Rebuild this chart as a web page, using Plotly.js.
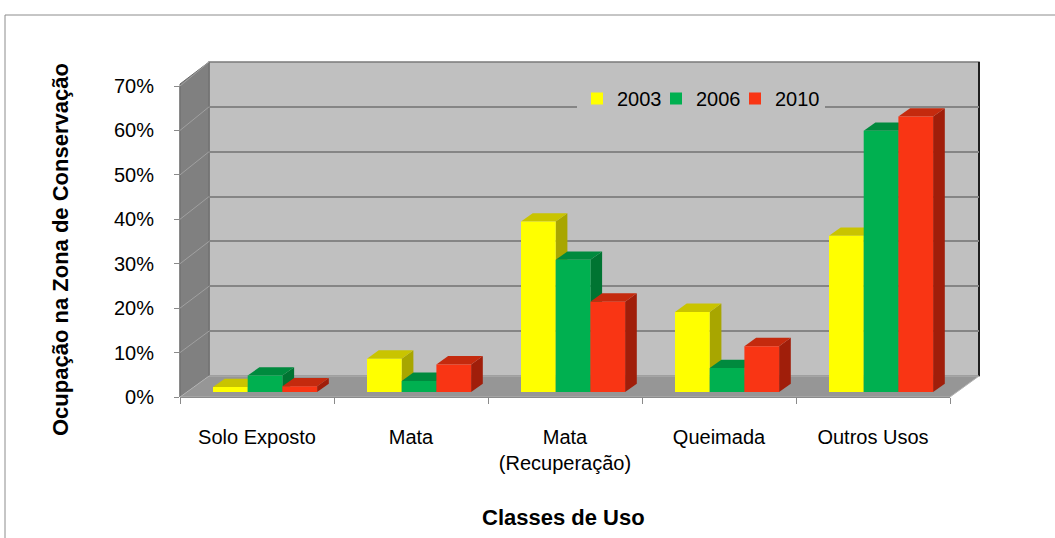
<!DOCTYPE html>
<html>
<head>
<meta charset="utf-8">
<script src="https://cdn.plot.ly/plotly-3.0.1.min.js"></script>
<style>html,body{margin:0;padding:0;background:#fff;}#chart{width:1055px;height:538px;}</style>
</head>
<body>
<div id="chart"></div>
<script>
// ---- data ----
const categories = ["Solo Exposto", "Mata", "Mata<br>(Recuperação)", "Queimada", "Outros Usos"];
const years = ["2003", "2006", "2010"];
const v2003 = [1.1, 7.5, 38.3, 18.0, 35.1];
const v2006 = [3.7, 2.5, 29.7, 5.4, 58.7];
const v2010 = [1.3, 6.2, 20.3, 10.3, 61.9];
const yTicks = [0, 10, 20, 30, 40, 50, 60, 70];
const yTickText = yTicks.map(t => t + "%");

// ---- styling ----
const W = 1055, H = 538;
const FONT = "Liberation Sans, Arial, sans-serif";
const frontCol = ["#FFFF00", "#00B050", "#F93514"];
const topCol   = ["#C9C400", "#008A3E", "#C42A0E"];
const sideCol  = ["#A8A600", "#007432", "#A01E0A"];
const series = [v2003, v2006, v2010];

// pixel geometry
const bars  = {x0: 180, x1: 950, y0: 392, y1: 80.5};  // plane of the bar front faces
const axisF = {x0: 180, x1: 950, y0: 397, y1: 86};    // front axis (labels)
const back  = {x0: 209, x1: 979, y0: 376, y1: 62};    // back wall
const px = v => v / W, py = v => 1 - v / H;

const catPx = (bars.x1 - bars.x0) / categories.length;
const unitPx = (bars.y0 - bars.y1) / 70;
const barW = 34.7 / catPx;
const firstOff = -44 / catPx;
const depthX = 11.7 / catPx;
const depthY = 8.3 / unitPx;

const traces = [];
traces.push({type: "scatter", x: [0], y: [0], xaxis: "x", yaxis: "y", mode: "markers",
  marker: {opacity: 0}, showlegend: false, hoverinfo: "skip"});

series.forEach((vals, i) => {
  const tr = {
    type: "bar", name: years[i], x: categories, y: vals,
    xaxis: "x2", yaxis: "y2",
    width: barW, offset: firstOff + i * barW,
    marker: {color: frontCol[i], line: {width: 0}},
    hovertemplate: "%{x}: %{y}%<extra>" + years[i] + "</extra>"
  };
  if (i < series.length - 1) tr.legendwidth = 34;
  traces.push(tr);
});
traces.push({type: "scatter", x: [0], y: [0], xaxis: "x3", yaxis: "y3", mode: "markers",
  marker: {opacity: 0}, showlegend: false, hoverinfo: "skip"});

const shapes = [];
shapes.push({type: "rect", xref: "paper", yref: "paper", x0: px(5), x1: 1.05, y0: -0.05, y1: py(15),
  line: {color: "#8c8c8c", width: 1}, fillcolor: "rgba(0,0,0,0)", layer: "below"});
shapes.push({type: "rect", xref: "paper", yref: "paper", x0: px(back.x0), x1: px(back.x1), y0: py(back.y0), y1: py(back.y1),
  line: {color: "#7a7a7a", width: 1.5}, fillcolor: "#C0C0C0", layer: "below"});
shapes.push({type: "line", xref: "paper", yref: "paper", x0: px(back.x1), x1: px(back.x1), y0: py(back.y0), y1: py(back.y1),
  line: {color: "#202020", width: 2}, layer: "below"});
shapes.push({type: "path", xref: "paper", yref: "paper",
  path: `M ${px(axisF.x0)},${py(axisF.y0)} L ${px(back.x0)},${py(back.y0)} L ${px(back.x0)},${py(back.y1)} L ${px(axisF.x0)},${py(axisF.y1 - 2)} Z`,
  fillcolor: "#808080", line: {color: "#6a6a6a", width: 1}, layer: "below"});
yTicks.slice(1).forEach(t => {
  const yf = axisF.y0 - t * (axisF.y0 - axisF.y1) / 70;
  const yb = back.y0 - t * (back.y0 - back.y1) / 70;
  shapes.push({type: "line", xref: "paper", yref: "paper", x0: px(axisF.x0), x1: px(back.x0), y0: py(yf), y1: py(yb),
    line: {color: "#a0a0a0", width: 1}, layer: "below"});
});
shapes.push({type: "path", xref: "paper", yref: "paper",
  path: `M ${px(axisF.x0)},${py(axisF.y0)} L ${px(axisF.x1)},${py(axisF.y0)} L ${px(back.x1)},${py(back.y0)} L ${px(back.x0)},${py(back.y0)} Z`,
  fillcolor: "#969696", line: {color: "#b4b4b4", width: 1}, layer: "below"});

series.forEach((vals, i) => {
  vals.forEach((v, k) => {
    const xl = k + firstOff + i * barW, xr = xl + barW;
    shapes.push({type: "path", xref: "x2", yref: "y2", layer: "below",
      path: `M ${xr},0 L ${xr},${v} L ${xr + depthX},${v + depthY} L ${xr + depthX},${depthY} Z`,
      fillcolor: sideCol[i], line: {width: 0}});
    shapes.push({type: "path", xref: "x2", yref: "y2", layer: "below",
      path: `M ${xl},${v} L ${xr},${v} L ${xr + depthX},${v + depthY} L ${xl + depthX},${v + depthY} Z`,
      fillcolor: topCol[i], line: {width: 0}});
  });
});

const layout = {
  width: W, height: H,
  margin: {l: 0, r: 0, t: 0, b: 0},
  paper_bgcolor: "#ffffff",
  plot_bgcolor: "rgba(0,0,0,0)",
  font: {family: FONT, size: 20, color: "#000"},
  barmode: "overlay",
  showlegend: true,
  legend: {orientation: "h", x: px(577), y: py(79), xanchor: "left", yanchor: "top",
    bgcolor: "#C0C0C0", font: {family: FONT, size: 20, color: "#000"},
    itemclick: false, itemdoubleclick: false, traceorder: "normal"},
  xaxis: {domain: [px(back.x0), px(back.x1)], range: [0, 1], anchor: "y",
    showgrid: false, showticklabels: false, zeroline: false, showline: false, ticks: ""},
  yaxis: {domain: [py(back.y0), py(back.y1)], range: [0, 70], anchor: "x", tickvals: yTicks,
    showgrid: true, gridcolor: "#858585", gridwidth: 2, showticklabels: false, zeroline: false,
    showline: false, ticks: ""},
  xaxis2: {domain: [px(bars.x0), px(bars.x1)], anchor: "free", position: py(axisF.y0), type: "category",
    showgrid: false, zeroline: false, showline: true, linecolor: "#8a8a8a", linewidth: 1,
    ticks: "outside", tickson: "boundaries", ticklen: 6, tickcolor: "#8a8a8a",
    ticklabelstandoff: 22, tickfont: {family: FONT, size: 20, color: "#000"}},
  yaxis2: {domain: [py(bars.y0), py(bars.y1)], anchor: "x2", range: [0, 70], visible: false},
  xaxis3: {domain: [px(axisF.x0), px(axisF.x1)], anchor: "y3", range: [0, 1], visible: false},
  yaxis3: {domain: [py(axisF.y0), py(axisF.y1)], anchor: "x3", range: [0, 70],
    tickmode: "array", tickvals: yTicks, ticktext: yTickText,
    showgrid: false, zeroline: false, showline: true, linecolor: "#8a8a8a", linewidth: 1,
    ticks: "outside", ticklen: 5, tickcolor: "#8a8a8a", ticklabelstandoff: 16,
    tickfont: {family: FONT, size: 20, color: "#000"}},
  shapes: shapes,
  annotations: [
    {xref: "paper", yref: "paper", x: px(60), y: py(250), xanchor: "center", yanchor: "middle",
      text: "<b>Ocupação na Zona de Conservação</b>",
      textangle: -90, showarrow: false, font: {family: FONT, size: 22, color: "#000"}},
    {xref: "paper", yref: "paper", x: px(563), y: py(517), xanchor: "center", yanchor: "middle",
      text: "<b>Classes de Uso</b>",
      showarrow: false, font: {family: FONT, size: 22, color: "#000"}}
  ]
};

Plotly.newPlot("chart", traces, layout, {displayModeBar: false, staticPlot: true});
</script>
</body>
</html>
